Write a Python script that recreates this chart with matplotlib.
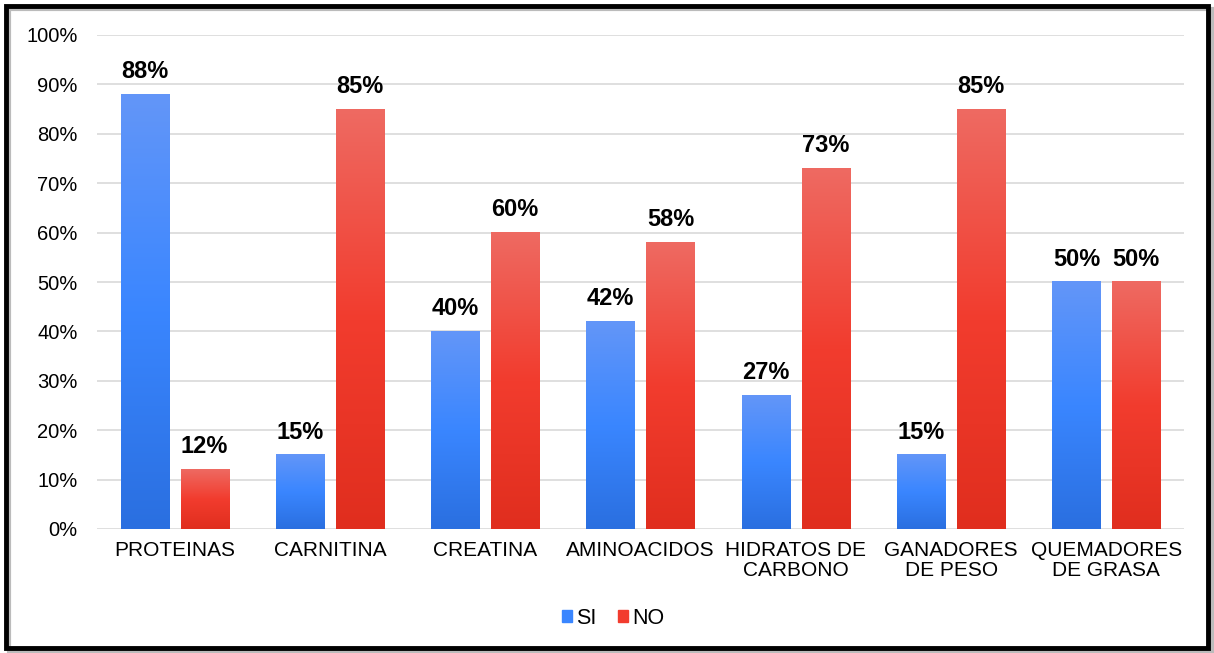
import numpy as np
import matplotlib
matplotlib.use("Agg")
import matplotlib.pyplot as plt
from matplotlib.colors import LinearSegmentedColormap
from matplotlib.patches import Rectangle

categories = ["PROTEINAS", "CARNITINA", "CREATINA", "AMINOACIDOS", "HIDRATOS DE\nCARBONO",
              "GANADORES\nDE PESO", "QUEMADORES\nDE GRASA"]
si_values = [88, 15, 40, 42, 27, 15, 50]
no_values = [12, 85, 60, 58, 73, 85, 50]
series_names = ["SI", "NO"]

plt.rcParams['font.family'] = ['Liberation Sans', 'DejaVu Sans']

fig = plt.figure(figsize=(12.14, 6.53), dpi=100)
ax = fig.add_axes([97/1214, 1-529/653, (1184-97)/1214, (529-35)/653])

blue_cmap = LinearSegmentedColormap.from_list("b", ["#2A6FE0", "#3A86FF", "#6396F8"])
red_cmap = LinearSegmentedColormap.from_list("r", ["#E02E1E", "#F23C2E", "#EE6A62"])

width = 0.31
offset = 0.193
x = np.arange(len(categories))
grad = np.linspace(0, 1, 256).reshape(-1, 1)

def gbar(xc, h, cmap):
    ax.imshow(grad, extent=[xc - width/2, xc + width/2, 0, h], origin='lower',
              cmap=cmap, aspect='auto', zorder=2, interpolation='bicubic',
              vmin=0, vmax=1)

for i in range(len(categories)):
    gbar(x[i] - offset, si_values[i], blue_cmap)
    gbar(x[i] + offset, no_values[i], red_cmap)
    ax.text(x[i] - offset, si_values[i] + 3.3, f"{si_values[i]}%", ha='center', va='baseline',
            fontsize=17, fontweight='bold', color='black')
    ax.text(x[i] + offset, no_values[i] + 3.3, f"{no_values[i]}%", ha='center', va='baseline',
            fontsize=17, fontweight='bold', color='black')

ax.set_xlim(-0.5, len(categories) - 0.5)
ax.set_ylim(0, 100)
ax.set_yticks(np.arange(0, 101, 10))
ax.set_yticklabels([f"{v}%" for v in range(0, 101, 10)], fontsize=14.5)
ax.set_xticks(x)
ax.set_xticklabels(categories, fontsize=15, linespacing=1.05)
ax.tick_params(axis='y', length=0, pad=14)
ax.tick_params(axis='x', length=0, pad=9)
ax.grid(axis='y', color='#D9D9D9', linewidth=1.2, zorder=0)
ax.set_axisbelow(True)
for s in ax.spines.values():
    s.set_visible(False)

handles = [Rectangle((0, 0), 1, 1, color="#3A86FF"), Rectangle((0, 0), 1, 1, color="#F23C2E")]
fig.legend(handles, series_names, loc='center', bbox_to_anchor=(613/1214, 1-618/653),
           ncol=2, frameon=False, fontsize=15.5, handlelength=0.45, handleheight=0.45,
           handletextpad=0.2, columnspacing=1.0)

# outer border with shadow
fig.add_artist(Rectangle((9/1214, 1-651/653), 1203/1214, 642/653, transform=fig.transFigure,
                         fill=False, edgecolor='#BBBBBB', linewidth=3, zorder=-1))
fig.add_artist(Rectangle((6/1214, 1-648/653), 1202/1214, 642/653, transform=fig.transFigure,
                         fill=False, edgecolor='black', linewidth=3.5, zorder=10))

fig.savefig("out.png", dpi=100)
